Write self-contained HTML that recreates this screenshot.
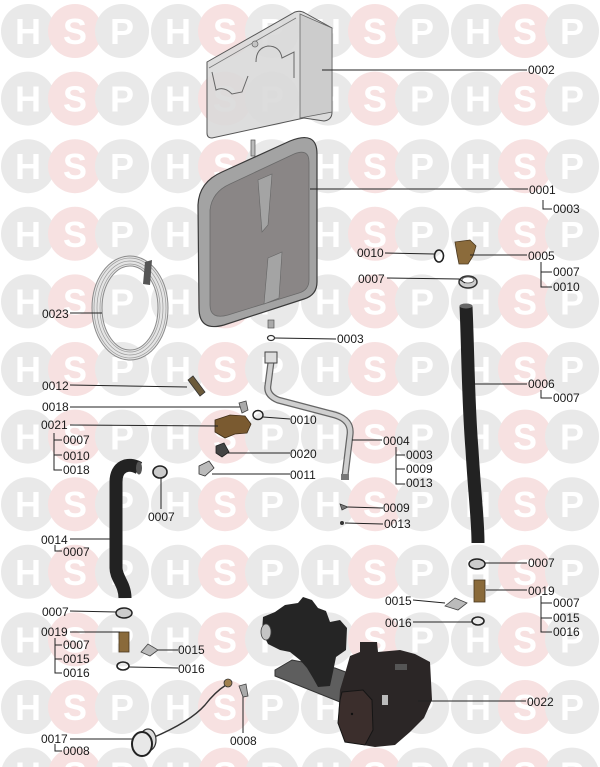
<!DOCTYPE html>
<html><head><meta charset="utf-8"><style>
html,body{margin:0;padding:0;background:#fff;}
svg{display:block;}
.g{fill:#e9e9e9}.p{fill:#f7e1e1}
.w text{font-family:"Liberation Sans",sans-serif;font-weight:bold;font-size:36px;fill:#fff;text-anchor:middle}
.l{font-family:"Liberation Sans",sans-serif;font-size:12px;fill:#1a1a1a}
.ln{stroke:#222;stroke-width:1;fill:none}
</style></head><body>
<svg width="600" height="767" viewBox="0 0 600 767" xmlns="http://www.w3.org/2000/svg">
<rect width="600" height="767" fill="#fff"/>
<g class="w">
<g transform="translate(0,31)"><circle cx="28" r="27" class="g"/><circle cx="75" r="27" class="p"/><circle cx="122" r="27" class="g"/><circle cx="178" r="27" class="g"/><circle cx="225" r="27" class="p"/><circle cx="272" r="27" class="g"/><circle cx="328" r="27" class="g"/><circle cx="375" r="27" class="p"/><circle cx="422" r="27" class="g"/><circle cx="478" r="27" class="g"/><circle cx="525" r="27" class="p"/><circle cx="572" r="27" class="g"/><text x="28" y="13">H</text><text x="75" y="13">S</text><text x="122" y="13">P</text><text x="178" y="13">H</text><text x="225" y="13">S</text><text x="272" y="13">P</text><text x="328" y="13">H</text><text x="375" y="13">S</text><text x="422" y="13">P</text><text x="478" y="13">H</text><text x="525" y="13">S</text><text x="572" y="13">P</text></g>
<g transform="translate(0,98.6)"><circle cx="28" r="27" class="g"/><circle cx="75" r="27" class="p"/><circle cx="122" r="27" class="g"/><circle cx="178" r="27" class="g"/><circle cx="225" r="27" class="p"/><circle cx="272" r="27" class="g"/><circle cx="328" r="27" class="g"/><circle cx="375" r="27" class="p"/><circle cx="422" r="27" class="g"/><circle cx="478" r="27" class="g"/><circle cx="525" r="27" class="p"/><circle cx="572" r="27" class="g"/><text x="28" y="13">H</text><text x="75" y="13">S</text><text x="122" y="13">P</text><text x="178" y="13">H</text><text x="225" y="13">S</text><text x="272" y="13">P</text><text x="328" y="13">H</text><text x="375" y="13">S</text><text x="422" y="13">P</text><text x="478" y="13">H</text><text x="525" y="13">S</text><text x="572" y="13">P</text></g>
<g transform="translate(0,166.2)"><circle cx="28" r="27" class="g"/><circle cx="75" r="27" class="p"/><circle cx="122" r="27" class="g"/><circle cx="178" r="27" class="g"/><circle cx="225" r="27" class="p"/><circle cx="272" r="27" class="g"/><circle cx="328" r="27" class="g"/><circle cx="375" r="27" class="p"/><circle cx="422" r="27" class="g"/><circle cx="478" r="27" class="g"/><circle cx="525" r="27" class="p"/><circle cx="572" r="27" class="g"/><text x="28" y="13">H</text><text x="75" y="13">S</text><text x="122" y="13">P</text><text x="178" y="13">H</text><text x="225" y="13">S</text><text x="272" y="13">P</text><text x="328" y="13">H</text><text x="375" y="13">S</text><text x="422" y="13">P</text><text x="478" y="13">H</text><text x="525" y="13">S</text><text x="572" y="13">P</text></g>
<g transform="translate(0,233.8)"><circle cx="28" r="27" class="g"/><circle cx="75" r="27" class="p"/><circle cx="122" r="27" class="g"/><circle cx="178" r="27" class="g"/><circle cx="225" r="27" class="p"/><circle cx="272" r="27" class="g"/><circle cx="328" r="27" class="g"/><circle cx="375" r="27" class="p"/><circle cx="422" r="27" class="g"/><circle cx="478" r="27" class="g"/><circle cx="525" r="27" class="p"/><circle cx="572" r="27" class="g"/><text x="28" y="13">H</text><text x="75" y="13">S</text><text x="122" y="13">P</text><text x="178" y="13">H</text><text x="225" y="13">S</text><text x="272" y="13">P</text><text x="328" y="13">H</text><text x="375" y="13">S</text><text x="422" y="13">P</text><text x="478" y="13">H</text><text x="525" y="13">S</text><text x="572" y="13">P</text></g>
<g transform="translate(0,301.4)"><circle cx="28" r="27" class="g"/><circle cx="75" r="27" class="p"/><circle cx="122" r="27" class="g"/><circle cx="178" r="27" class="g"/><circle cx="225" r="27" class="p"/><circle cx="272" r="27" class="g"/><circle cx="328" r="27" class="g"/><circle cx="375" r="27" class="p"/><circle cx="422" r="27" class="g"/><circle cx="478" r="27" class="g"/><circle cx="525" r="27" class="p"/><circle cx="572" r="27" class="g"/><text x="28" y="13">H</text><text x="75" y="13">S</text><text x="122" y="13">P</text><text x="178" y="13">H</text><text x="225" y="13">S</text><text x="272" y="13">P</text><text x="328" y="13">H</text><text x="375" y="13">S</text><text x="422" y="13">P</text><text x="478" y="13">H</text><text x="525" y="13">S</text><text x="572" y="13">P</text></g>
<g transform="translate(0,369)"><circle cx="28" r="27" class="g"/><circle cx="75" r="27" class="p"/><circle cx="122" r="27" class="g"/><circle cx="178" r="27" class="g"/><circle cx="225" r="27" class="p"/><circle cx="272" r="27" class="g"/><circle cx="328" r="27" class="g"/><circle cx="375" r="27" class="p"/><circle cx="422" r="27" class="g"/><circle cx="478" r="27" class="g"/><circle cx="525" r="27" class="p"/><circle cx="572" r="27" class="g"/><text x="28" y="13">H</text><text x="75" y="13">S</text><text x="122" y="13">P</text><text x="178" y="13">H</text><text x="225" y="13">S</text><text x="272" y="13">P</text><text x="328" y="13">H</text><text x="375" y="13">S</text><text x="422" y="13">P</text><text x="478" y="13">H</text><text x="525" y="13">S</text><text x="572" y="13">P</text></g>
<g transform="translate(0,436.6)"><circle cx="28" r="27" class="g"/><circle cx="75" r="27" class="p"/><circle cx="122" r="27" class="g"/><circle cx="178" r="27" class="g"/><circle cx="225" r="27" class="p"/><circle cx="272" r="27" class="g"/><circle cx="328" r="27" class="g"/><circle cx="375" r="27" class="p"/><circle cx="422" r="27" class="g"/><circle cx="478" r="27" class="g"/><circle cx="525" r="27" class="p"/><circle cx="572" r="27" class="g"/><text x="28" y="13">H</text><text x="75" y="13">S</text><text x="122" y="13">P</text><text x="178" y="13">H</text><text x="225" y="13">S</text><text x="272" y="13">P</text><text x="328" y="13">H</text><text x="375" y="13">S</text><text x="422" y="13">P</text><text x="478" y="13">H</text><text x="525" y="13">S</text><text x="572" y="13">P</text></g>
<g transform="translate(0,504.2)"><circle cx="28" r="27" class="g"/><circle cx="75" r="27" class="p"/><circle cx="122" r="27" class="g"/><circle cx="178" r="27" class="g"/><circle cx="225" r="27" class="p"/><circle cx="272" r="27" class="g"/><circle cx="328" r="27" class="g"/><circle cx="375" r="27" class="p"/><circle cx="422" r="27" class="g"/><circle cx="478" r="27" class="g"/><circle cx="525" r="27" class="p"/><circle cx="572" r="27" class="g"/><text x="28" y="13">H</text><text x="75" y="13">S</text><text x="122" y="13">P</text><text x="178" y="13">H</text><text x="225" y="13">S</text><text x="272" y="13">P</text><text x="328" y="13">H</text><text x="375" y="13">S</text><text x="422" y="13">P</text><text x="478" y="13">H</text><text x="525" y="13">S</text><text x="572" y="13">P</text></g>
<g transform="translate(0,571.8)"><circle cx="28" r="27" class="g"/><circle cx="75" r="27" class="p"/><circle cx="122" r="27" class="g"/><circle cx="178" r="27" class="g"/><circle cx="225" r="27" class="p"/><circle cx="272" r="27" class="g"/><circle cx="328" r="27" class="g"/><circle cx="375" r="27" class="p"/><circle cx="422" r="27" class="g"/><circle cx="478" r="27" class="g"/><circle cx="525" r="27" class="p"/><circle cx="572" r="27" class="g"/><text x="28" y="13">H</text><text x="75" y="13">S</text><text x="122" y="13">P</text><text x="178" y="13">H</text><text x="225" y="13">S</text><text x="272" y="13">P</text><text x="328" y="13">H</text><text x="375" y="13">S</text><text x="422" y="13">P</text><text x="478" y="13">H</text><text x="525" y="13">S</text><text x="572" y="13">P</text></g>
<g transform="translate(0,639.4)"><circle cx="28" r="27" class="g"/><circle cx="75" r="27" class="p"/><circle cx="122" r="27" class="g"/><circle cx="178" r="27" class="g"/><circle cx="225" r="27" class="p"/><circle cx="272" r="27" class="g"/><circle cx="328" r="27" class="g"/><circle cx="375" r="27" class="p"/><circle cx="422" r="27" class="g"/><circle cx="478" r="27" class="g"/><circle cx="525" r="27" class="p"/><circle cx="572" r="27" class="g"/><text x="28" y="13">H</text><text x="75" y="13">S</text><text x="122" y="13">P</text><text x="178" y="13">H</text><text x="225" y="13">S</text><text x="272" y="13">P</text><text x="328" y="13">H</text><text x="375" y="13">S</text><text x="422" y="13">P</text><text x="478" y="13">H</text><text x="525" y="13">S</text><text x="572" y="13">P</text></g>
<g transform="translate(0,707)"><circle cx="28" r="27" class="g"/><circle cx="75" r="27" class="p"/><circle cx="122" r="27" class="g"/><circle cx="178" r="27" class="g"/><circle cx="225" r="27" class="p"/><circle cx="272" r="27" class="g"/><circle cx="328" r="27" class="g"/><circle cx="375" r="27" class="p"/><circle cx="422" r="27" class="g"/><circle cx="478" r="27" class="g"/><circle cx="525" r="27" class="p"/><circle cx="572" r="27" class="g"/><text x="28" y="13">H</text><text x="75" y="13">S</text><text x="122" y="13">P</text><text x="178" y="13">H</text><text x="225" y="13">S</text><text x="272" y="13">P</text><text x="328" y="13">H</text><text x="375" y="13">S</text><text x="422" y="13">P</text><text x="478" y="13">H</text><text x="525" y="13">S</text><text x="572" y="13">P</text></g>
<g transform="translate(0,774.6)"><circle cx="28" r="27" class="g"/><circle cx="75" r="27" class="p"/><circle cx="122" r="27" class="g"/><circle cx="178" r="27" class="g"/><circle cx="225" r="27" class="p"/><circle cx="272" r="27" class="g"/><circle cx="328" r="27" class="g"/><circle cx="375" r="27" class="p"/><circle cx="422" r="27" class="g"/><circle cx="478" r="27" class="g"/><circle cx="525" r="27" class="p"/><circle cx="572" r="27" class="g"/><text x="28" y="13">H</text><text x="75" y="13">S</text><text x="122" y="13">P</text><text x="178" y="13">H</text><text x="225" y="13">S</text><text x="272" y="13">P</text><text x="328" y="13">H</text><text x="375" y="13">S</text><text x="422" y="13">P</text><text x="478" y="13">H</text><text x="525" y="13">S</text><text x="572" y="13">P</text></g>
</g>

<!-- 0002 bracket -->
<path d="M207,62 L295,12 Q300,10 305,13 L332,28 L332,112 Q332,120 324,121 L304,118 L212,138 Q207,138 207,133 Z" fill="#d9d9d9" fill-opacity="0.9" stroke="#555" stroke-width="1"/>
<path d="M300,14 L332,28 L332,112 L300,118 Z" fill="#cacaca" fill-opacity="0.9" stroke="#666" stroke-width="0.8"/>
<path d="M209,68 L296,18" stroke="#777" stroke-width="0.8" fill="none"/>
<path d="M212,72 L216,90 Q224,86 232,94 L242,92 L248,76" fill="none" stroke="#666" stroke-width="1"/>
<path d="M256,62 Q256,48 268,46 Q280,46 282,58 L294,52 L294,78" fill="none" stroke="#666" stroke-width="1"/>
<circle cx="255" cy="44" r="3" fill="#c4c4c4" stroke="#666" stroke-width="0.7"/>

<!-- 0001 tank -->
<rect x="251" y="140" width="4" height="16" fill="#bbb" stroke="#555" stroke-width="0.7"/>
<path d="M198,205 Q199,182 222,172 L290,141 Q317,130 317,154 L317,282 Q317,295 304,299 L224,325 Q199,332 199,308 Z" fill="#a3a3a3" stroke="#3a3a3a" stroke-width="1.2"/>
<path d="M210,210 Q212,192 230,184 L294,154 Q309,148 309,162 L309,280 Q309,290 299,293 L228,315 Q210,320 210,305 Z" fill="#8a8686" stroke="#6a6a6a" stroke-width="0.8"/>
<path d="M258,180 L272,174 L268,225 L262,232 Z" fill="#a4a4a4" stroke="#666" stroke-width="0.6"/>
<path d="M268,258 L282,252 L279,298 L264,304 Z" fill="#a4a4a4" stroke="#666" stroke-width="0.6"/>
<rect x="268" y="320" width="6" height="8" fill="#aaa" stroke="#555" stroke-width="0.7"/>

<!-- 0023 coil -->
<g fill="none">
<ellipse cx="130" cy="308" rx="33" ry="47" stroke="#8a8a8a" stroke-width="11"/>
<ellipse cx="130" cy="308" rx="33" ry="47" stroke="#e4e4e4" stroke-width="9"/>
<ellipse cx="130" cy="308" rx="30" ry="44" stroke="#9a9a9a" stroke-width="0.7"/>
<ellipse cx="130" cy="308" rx="33" ry="47" stroke="#9a9a9a" stroke-width="0.7"/>
<ellipse cx="130" cy="308" rx="36" ry="50" stroke="#9a9a9a" stroke-width="0.7"/>
</g>
<path d="M145,262 L152,260 L150,285 L143,284 Z" fill="#555"/>

<!-- 0006 hose right -->
<path d="M466,306 C468,350 468,400 472,450 C475,500 478,520 478,543" stroke="#222" stroke-width="13" fill="none"/>
<ellipse cx="466" cy="306" rx="6.5" ry="2.5" fill="#666"/>

<!-- 0014 hose left -->
<path d="M139,468 C128,462 116,466 116,482 L116,568 C116,578 125,584 125,598" stroke="#222" stroke-width="13" fill="none"/>
<ellipse cx="139" cy="468" rx="3" ry="6.5" fill="#555"/>

<!-- 0004 pipe -->
<path d="M271,362 L268,385 Q266,395 278,400 L335,415 Q352,420 350,435 L345,476" stroke="#666" stroke-width="7" fill="none"/>
<path d="M271,362 L268,385 Q266,395 278,400 L335,415 Q352,420 350,435 L345,476" stroke="#cfcfcf" stroke-width="4.5" fill="none"/>
<rect x="265" y="352" width="12" height="11" fill="#ddd" stroke="#444" stroke-width="1"/>
<rect x="341" y="474" width="8" height="6" fill="#777"/>

<!-- small parts top right -->
<ellipse cx="439" cy="256" rx="4.5" ry="6" fill="none" stroke="#222" stroke-width="1.6"/>
<path d="M455,242 L470,240 L476,246 L473,256 L468,264 L459,264 L457,254 Z" fill="#8b6b3b" stroke="#4a3820" stroke-width="0.8"/>
<ellipse cx="468" cy="282" rx="9" ry="6" fill="#ccc" stroke="#333" stroke-width="1.5"/>
<ellipse cx="468" cy="280" rx="6" ry="3" fill="#fff" stroke="#555" stroke-width="0.8"/>
<ellipse cx="271" cy="338" rx="3.5" ry="2.5" fill="none" stroke="#333" stroke-width="1.2"/>

<!-- left middle parts -->
<path d="M188,380 L193,376 L205,392 L200,396 Z" fill="#6b5a3a" stroke="#333" stroke-width="0.8"/>
<path d="M239,403 L246,401 L248,410 L242,413 Z" fill="#aaa" stroke="#444" stroke-width="0.8"/>
<path d="M215,420 L230,415 L245,416 L251,424 L247,433 L235,434 L225,438 L215,432 Z" fill="#7a5a30" stroke="#3e2d18" stroke-width="0.8"/>
<ellipse cx="258" cy="415" rx="5" ry="4.5" fill="none" stroke="#222" stroke-width="1.4"/>
<path d="M216,446 L224,443 L229,452 L222,457 L216,453 Z" fill="#444" stroke="#222" stroke-width="0.8"/>
<path d="M199,466 L209,461 L214,468 L205,476 L199,474 Z" fill="#bbb" stroke="#333" stroke-width="0.8"/>
<ellipse cx="160" cy="472" rx="7" ry="6" fill="#ccc" stroke="#222" stroke-width="1.6"/>
<path d="M340,504 L348,507 L342,510 Z" fill="#777" stroke="#333" stroke-width="0.7"/>
<circle cx="342" cy="523" r="2" fill="#333"/>

<!-- right lower parts -->
<ellipse cx="477" cy="564" rx="8" ry="5" fill="#ccc" stroke="#222" stroke-width="1.5"/>
<rect x="474" y="580" width="11" height="22" fill="#8a6a3a" stroke="#4a3820" stroke-width="0.8"/>
<path d="M445,606 L455,598 L467,603 L458,610 Z" fill="#bbb" stroke="#444" stroke-width="0.8"/>
<ellipse cx="478" cy="621" rx="6" ry="4" fill="none" stroke="#222" stroke-width="1.6"/>

<!-- left lower parts -->
<ellipse cx="124" cy="613" rx="8" ry="5" fill="#ccc" stroke="#222" stroke-width="1.5"/>
<rect x="119" y="632" width="10" height="20" fill="#8a6a3a" stroke="#4a3820" stroke-width="0.8"/>
<path d="M141,652 L148,644 L158,650 L150,656 Z" fill="#bbb" stroke="#444" stroke-width="0.8"/>
<ellipse cx="123" cy="666" rx="6" ry="4" fill="none" stroke="#222" stroke-width="1.6"/>
<path d="M152,738 Q190,722 205,705 Q215,692 226,685" stroke="#333" stroke-width="1.4" fill="none"/>
<circle cx="228" cy="683" r="4" fill="#a08050" stroke="#333" stroke-width="0.8"/>
<path d="M239,686 L246,684 L248,696 L243,697 Z" fill="#aaa" stroke="#444" stroke-width="0.8"/>
<ellipse cx="148" cy="740" rx="8" ry="11" fill="#ddd" stroke="#333" stroke-width="1.2"/>
<ellipse cx="142" cy="744" rx="10" ry="12" fill="#e8e8e8" stroke="#222" stroke-width="2"/>

<!-- 0022 pump group -->
<path d="M275,670 L292,660 L335,668 L420,700 L413,716 L340,702 L275,676 Z" fill="#5e5e5e" stroke="#333" stroke-width="1"/>
<path d="M263,617 L275,612 L285,605 L298,603 L303,597 L312,600 L318,608 L326,611 L330,622 L340,620 L347,628 L346,650 L336,657 L333,672 L330,686 L318,687 L313,678 L307,668 L300,660 L290,652 L280,650 L268,644 L262,632 Z" fill="#252525"/>
<ellipse cx="266" cy="632" rx="5" ry="8" fill="#c4c4c4" stroke="#444" stroke-width="0.8"/>
<path d="M350,656 L360,652 L360,642 L377,642 L378,652 L400,650 L415,654 L430,662 L432,700 L424,718 L410,732 L395,745 L375,747 L345,742 L338,722 L340,690 L346,670 Z" fill="#2b2626"/>
<path d="M342,692 L363,690 L372,700 L373,730 L365,745 L345,742 L338,723 L340,700 Z" fill="#3b2e2c" stroke="#151515" stroke-width="1"/>
<rect x="382" y="695" width="6" height="10" fill="#bbb"/>
<rect x="395" y="664" width="12" height="6" fill="#555"/>
<circle cx="352" cy="714" r="1.2" fill="#111"/>

<!-- leader lines -->
<g class="ln">
<path d="M322,70 H527"/>
<path d="M310,189 H528"/>
<path d="M543,200 V209 H552"/>
<path d="M385,253 L434,254"/>
<path d="M470,255 H527"/>
<path d="M541,262 V287 H552 M541,272 H552"/>
<path d="M387,278 L459,279 L465,283"/>
<path d="M275,338 L336,339"/>
<path d="M472,384 H527"/>
<path d="M541,390 V398 H552"/>
<path d="M70,313 L102,313"/>
<path d="M70,385 L187,387"/>
<path d="M70,407 L240,407"/>
<path d="M70,425 L218,426"/>
<path d="M54,433 V470 H62 M54,440 H62 M54,455 H62"/>
<path d="M161,478 V509"/>
<path d="M70,539 H110"/>
<path d="M55,545 V551 H62"/>
<path d="M263,417 L290,419"/>
<path d="M227,453 H290"/>
<path d="M212,474 H290"/>
<path d="M352,440 H382"/>
<path d="M396,447 V484 H405 M396,455 H405 M396,469 H405"/>
<path d="M348,507 L383,508"/>
<path d="M345,523 L383,524"/>
<path d="M485,563 H527"/>
<path d="M486,590 H527"/>
<path d="M541,596 V632 H552 M541,603 H552 M541,618 H552"/>
<path d="M413,600 L445,603"/>
<path d="M413,622 H472"/>
<path d="M418,701 H526"/>
<path d="M70,611 L116,612"/>
<path d="M70,632 H120"/>
<path d="M55,638 V673 H62 M55,645 H62 M55,659 H62"/>
<path d="M158,650 H178"/>
<path d="M129,667 L178,668"/>
<path d="M243,697 V733"/>
<path d="M70,739 L133,739"/>
<path d="M55,744 V751 H62"/>
</g>

<!-- labels -->
<g class="l">
<text x="528" y="74">0002</text>
<text x="529" y="194">0001</text>
<text x="553" y="213">0003</text>
<text x="357" y="257">0010</text>
<text x="528" y="260">0005</text>
<text x="553" y="276">0007</text>
<text x="553" y="291">0010</text>
<text x="358" y="283">0007</text>
<text x="337" y="343">0003</text>
<text x="528" y="388">0006</text>
<text x="553" y="402">0007</text>
<text x="42" y="318">0023</text>
<text x="42" y="390">0012</text>
<text x="42" y="411">0018</text>
<text x="41" y="429">0021</text>
<text x="63" y="444">0007</text>
<text x="63" y="460">0010</text>
<text x="63" y="474">0018</text>
<text x="148" y="521">0007</text>
<text x="41" y="544">0014</text>
<text x="63" y="556">0007</text>
<text x="290" y="424">0010</text>
<text x="290" y="458">0020</text>
<text x="290" y="479">0011</text>
<text x="383" y="445">0004</text>
<text x="406" y="459">0003</text>
<text x="406" y="473">0009</text>
<text x="406" y="487">0013</text>
<text x="383" y="512">0009</text>
<text x="384" y="528">0013</text>
<text x="528" y="567">0007</text>
<text x="528" y="595">0019</text>
<text x="553" y="607">0007</text>
<text x="553" y="622">0015</text>
<text x="553" y="636">0016</text>
<text x="385" y="605">0015</text>
<text x="385" y="627">0016</text>
<text x="527" y="706">0022</text>
<text x="42" y="616">0007</text>
<text x="41" y="636">0019</text>
<text x="63" y="649">0007</text>
<text x="63" y="663">0015</text>
<text x="63" y="677">0016</text>
<text x="178" y="654">0015</text>
<text x="178" y="673">0016</text>
<text x="230" y="745">0008</text>
<text x="41" y="743">0017</text>
<text x="63" y="755">0008</text>
</g>
</svg>
</body></html>
